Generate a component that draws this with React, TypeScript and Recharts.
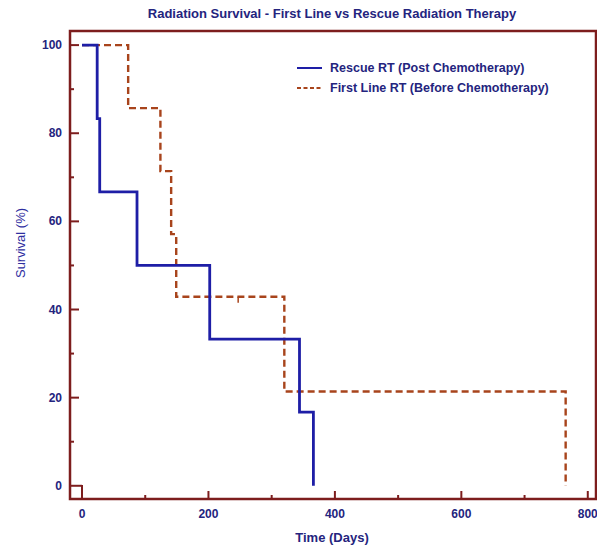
import React from 'react';
import { ComposedChart, Line, Scatter, XAxis, YAxis, ReferenceArea, Legend } from 'recharts';

const rescueTime = [0, 24, 28, 87, 202, 344, 366];
const rescueSurv = [100, 83.3, 66.7, 50, 33.3, 16.7, 0];
const firstTime = [0, 73, 124, 141, 149, 320, 765];
const firstSurv = [100, 85.7, 71.4, 57.1, 42.9, 21.4, 0];
const censorTime = [247];
const censorSurv = [42.9];
const xTicks = [0, 100, 200, 300, 400, 500, 600, 700, 800];
const yTicks = [0, 10, 20, 30, 40, 50, 60, 70, 80, 90, 100];
const seriesNames = ['Rescue RT (Post Chemotherapy)', 'First Line RT (Before Chemotherapy)'];

const rescueData = rescueTime.map((t, i) => ({ t, s: rescueSurv[i] }));
const firstData = firstTime.map((t, i) => ({ t, s: firstSurv[i] }));
const censorData = censorTime.map((t, i) => ({ t, s: censorSurv[i] }));

const X_DOMAIN: [number, number] = [-19, 813];
const Y_DOMAIN: [number, number] = [-3.0, 103.2];

const FRAME = '#7d1d1d';
const NAVY = '#24247e';
const BLUE = '#1e1ea6';
const ORANGE = '#a8441c';
const FONT = '"Liberation Sans", Arial, sans-serif';

const XTick = (props: any) => {
  const { x, y, payload } = props;
  const v = payload.value;
  const major = v % 200 === 0;
  const len = v === 0 ? 14 : major ? 8 : 4;
  return (
    <g>
      <line x1={x} x2={x} y1={y} y2={y - len} stroke={FRAME} strokeWidth={2} />
      {major && (
        <text x={x} y={y + 19} textAnchor="middle" fill={NAVY} fontSize={12} fontWeight="bold" fontFamily={FONT}>
          {v}
        </text>
      )}
    </g>
  );
};

const YTick = (props: any) => {
  const { x, y, payload } = props;
  const v = payload.value;
  const major = v % 20 === 0;
  const len = v === 0 ? 12 : major ? 9 : 4;
  return (
    <g>
      <line x1={x} x2={x + len} y1={y} y2={y} stroke={FRAME} strokeWidth={2} />
      {major && (
        <text x={x - 8} y={y + 4} textAnchor="end" fill={NAVY} fontSize={12} fontWeight="bold" fontFamily={FONT}>
          {v}
        </text>
      )}
    </g>
  );
};

const CensorMark = (props: any) => {
  const { cx, cy } = props;
  return <line x1={cx} x2={cx} y1={cy} y2={cy + 6} stroke={ORANGE} strokeWidth={1.5} />;
};

const LegendContent = () => (
  <div style={{ fontFamily: FONT, fontSize: 12.5, fontWeight: 'bold', color: NAVY, lineHeight: '20px' }}>
    <div style={{ display: 'flex', alignItems: 'center' }}>
      <svg width={25} height={10} style={{ marginRight: 8 }}>
        <line x1={0} x2={25} y1={5} y2={5} stroke={BLUE} strokeWidth={2} />
      </svg>
      <span>{seriesNames[0]}</span>
    </div>
    <div style={{ display: 'flex', alignItems: 'center' }}>
      <svg width={25} height={10} style={{ marginRight: 8 }}>
        <line x1={0} x2={25} y1={5} y2={5} stroke={ORANGE} strokeWidth={2} strokeDasharray="4 2.5" />
      </svg>
      <span>{seriesNames[1]}</span>
    </div>
  </div>
);

export default function App() {
  return (
    <div style={{ position: 'absolute', left: 0, top: 0, width: 597, height: 550, background: '#fff', overflow: 'hidden' }}>
      <div
        style={{
          position: 'absolute', left: 0, width: 664, top: 6, textAlign: 'center',
          fontFamily: FONT, fontSize: 13, fontWeight: 'bold', color: NAVY, lineHeight: '16px',
        }}
      >
        Radiation Survival - First Line vs Rescue Radiation Therapy
      </div>
      <div style={{ position: 'absolute', left: 21, top: 243, width: 0, height: 0 }}>
        <div
          style={{
            position: 'absolute', transform: 'translate(-50%, -50%) rotate(-90deg)', whiteSpace: 'nowrap',
            fontFamily: FONT, fontSize: 13, color: '#2e2ea0', left: 0, top: 0, lineHeight: '16px',
          }}
        >
          Survival (%)
        </div>
      </div>
      <div
        style={{
          position: 'absolute', left: 0, width: 664, top: 530, textAlign: 'center',
          fontFamily: FONT, fontSize: 13, fontWeight: 'bold', color: NAVY, lineHeight: '16px',
        }}
      >
        Time (Days)
      </div>
      <ComposedChart width={597} height={550} margin={{ top: 31, right: 1, bottom: 21, left: 10 }}>
        <XAxis
          type="number"
          dataKey="t"
          domain={X_DOMAIN}
          ticks={xTicks}
          tick={<XTick />}
          tickSize={0}
          tickMargin={0}
          axisLine={false}
          tickLine={false}
          allowDataOverflow
          height={30}
          interval={0}
        />
        <YAxis
          type="number"
          dataKey="s"
          domain={Y_DOMAIN}
          ticks={yTicks}
          tick={<YTick />}
          tickSize={0}
          tickMargin={0}
          axisLine={false}
          tickLine={false}
          allowDataOverflow
          width={60}
          interval={0}
        />
        <ReferenceArea
          x1={X_DOMAIN[0]} x2={X_DOMAIN[1]} y1={Y_DOMAIN[0]} y2={Y_DOMAIN[1]}
          fill="none" fillOpacity={0} stroke={FRAME} strokeWidth={2.5} ifOverflow="visible"
        />
        <Line
          data={firstData} dataKey="s" type="stepAfter" stroke={ORANGE} strokeWidth={2.4}
          strokeDasharray="7 4" dot={false} isAnimationActive={false} name={seriesNames[1]}
        />
        <Line
          data={rescueData} dataKey="s" type="stepAfter" stroke={BLUE} strokeWidth={2.8}
          dot={false} isAnimationActive={false} name={seriesNames[0]}
        />
        <Scatter data={censorData} dataKey="s" shape={<CensorMark />} isAnimationActive={false} />
        <Legend
          layout="vertical"
          align="center"
          verticalAlign="middle"
          content={<LegendContent />}
          wrapperStyle={{ position: 'absolute', top: 58, left: 297, width: 'auto', height: 'auto' }}
        />
      </ComposedChart>
    </div>
  );
}
